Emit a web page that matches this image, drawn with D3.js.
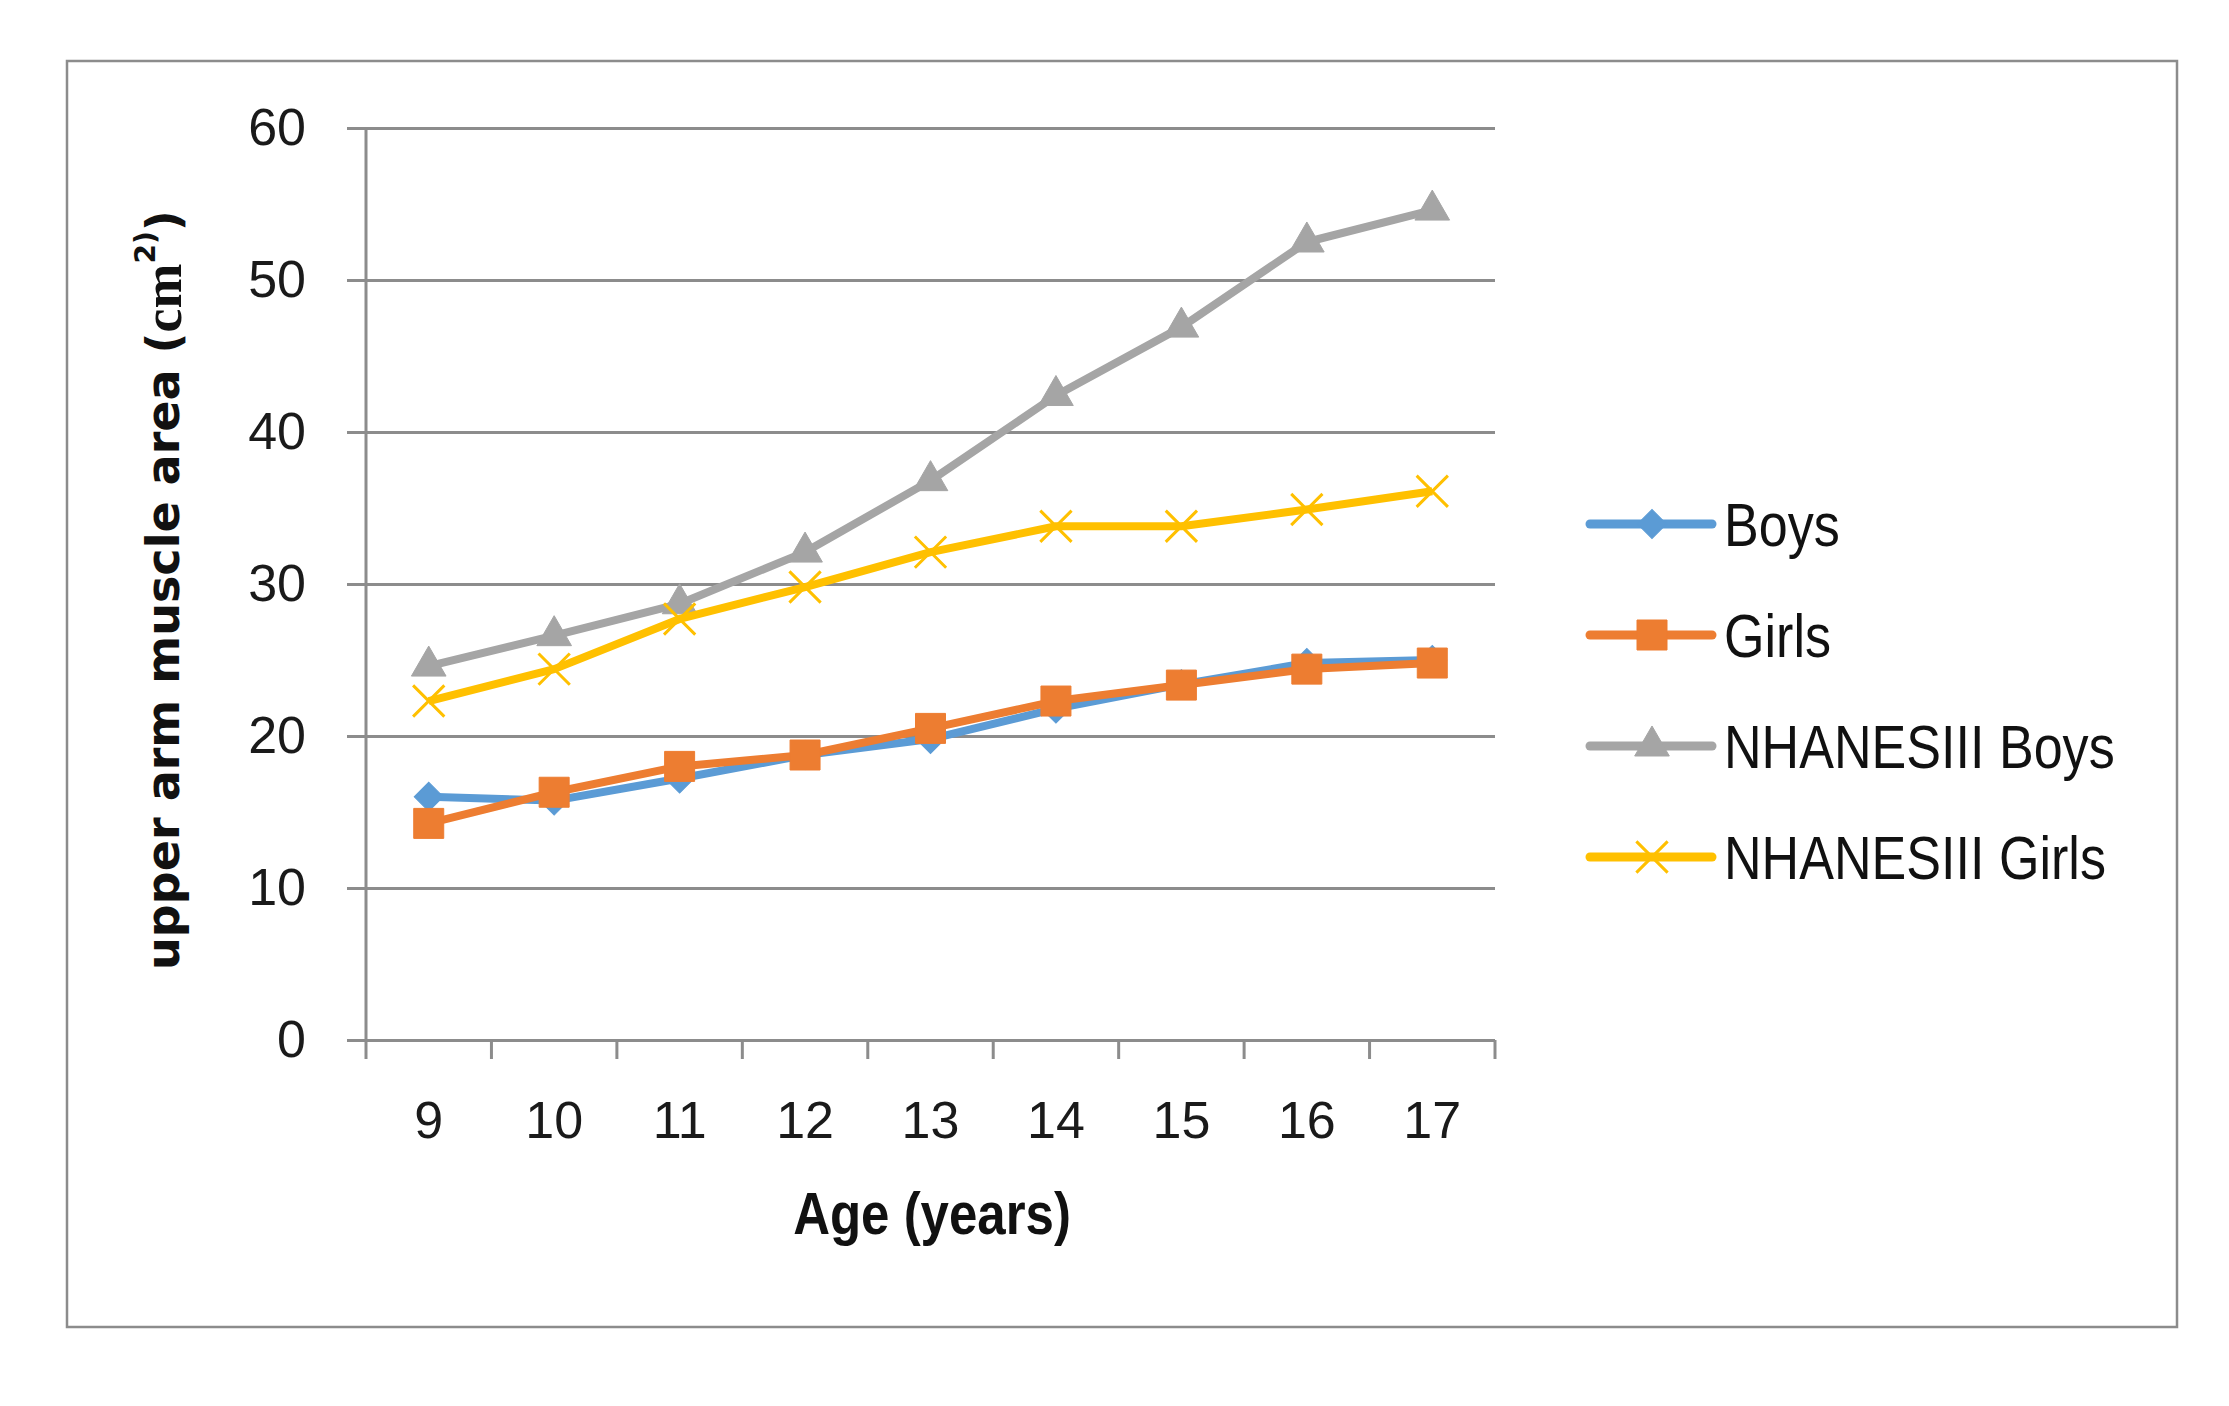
<!DOCTYPE html>
<html>
<head>
<meta charset="utf-8">
<script src="https://cdn.jsdelivr.net/npm/d3@7"></script>
<style>
  body { margin: 0; background: #fff; }
</style>
</head>
<body>
<div id="chart"></div>
<script>
"use strict";

var ages = ["9", "10", "11", "12", "13", "14", "15", "16", "17"];
var boys = [16.0, 15.75, 17.2, 18.75, 19.8, 21.8, 23.4, 24.8, 25.0];
var girls = [14.25, 16.3, 18.0, 18.75, 20.5, 22.3, 23.35, 24.4, 24.8];
var nhanesBoys = [24.6, 26.6, 28.7, 32.1, 36.8, 42.4, 46.9, 52.5, 54.6];
var nhanesGirls = [22.3, 24.4, 27.7, 29.8, 32.1, 33.8, 33.8, 34.9, 36.1];
var seriesNames = ["Boys", "Girls", "NHANESIII Boys", "NHANESIII Girls"];
var yTicks = [0, 10, 20, 30, 40, 50, 60];

function lineChart() {

    var w = 2229;
    var h = 1406;
    var left = 366, right = 1495, top = 128, bottom = 1040;

    var svg = d3.select("#chart")
                .append("svg")
                .attr("width", w)
                .attr("height", h);

    // outer frame
    svg.append("rect")
        .attr("x", 67).attr("y", 61)
        .attr("width", 2110).attr("height", 1266)
        .attr("fill", "none")
        .attr("stroke", "#8c8c8c")
        .attr("stroke-width", 2.5);

    var x = d3.scaleBand().domain(ages).range([left, right]).padding(0);
    var y = d3.scaleLinear().domain([0, 60]).range([bottom, top]);

    // gridlines + y labels in one axis, drawn from the right edge
    var gy = svg.append("g")
        .attr("transform", "translate(" + right + ",0)")
        .call(d3.axisLeft(y).tickValues(yTicks).tickSize(right - 347).tickPadding(41));
    gy.select(".domain").remove();
    gy.selectAll("line").attr("stroke", "#8c8c8c").attr("stroke-width", 3);
    gy.selectAll("text")
        .attr("font-family", "'Liberation Sans', Arial, sans-serif")
        .attr("font-size", 52)
        .attr("fill", "#1a1a1a");

    // vertical axis line
    svg.append("line")
        .attr("x1", left).attr("x2", left)
        .attr("y1", top).attr("y2", bottom)
        .attr("stroke", "#8c8c8c").attr("stroke-width", 3);

    // x ticks at category boundaries
    svg.selectAll("line.xtick")
        .data(d3.range(ages.length + 1))
        .enter()
        .append("line")
        .attr("class", "xtick")
        .attr("x1", function(i){ return left + i * x.step(); })
        .attr("x2", function(i){ return left + i * x.step(); })
        .attr("y1", bottom)
        .attr("y2", bottom + 19)
        .attr("stroke", "#8c8c8c")
        .attr("stroke-width", 3);

    var gx = svg.append("g")
        .attr("transform", "translate(0," + bottom + ")")
        .call(d3.axisBottom(x).tickSize(0).tickPadding(0));
    gx.select(".domain").remove();
    gx.selectAll("text")
        .attr("y", 80)
        .attr("dy", null)
        .attr("dominant-baseline", "central")
        .attr("font-family", "'Liberation Sans', Arial, sans-serif")
        .attr("font-size", 52)
        .attr("fill", "#1a1a1a");

    // axis titles (narrowed a bit, the original font is condensed)
    svg.append("text")
        .attr("transform", "translate(932,1214) scale(0.85,1)")
        .attr("text-anchor", "middle")
        .attr("dominant-baseline", "central")
        .attr("font-family", "'Liberation Sans', sans-serif")
        .attr("font-weight", "bold")
        .attr("font-size", 60)
        .attr("fill", "#111")
        .text("Age (years)");

    var yt = svg.append("text")
        .attr("transform", "translate(163,590) rotate(-90)")
        .attr("text-anchor", "middle")
        .attr("dominant-baseline", "central")
        .attr("font-family", "'DejaVu Sans', Verdana, sans-serif")
        .attr("font-weight", "bold")
        .attr("font-size", 46)
        .attr("fill", "#111");
    yt.append("tspan").text("upper arm muscle area (");
    yt.append("tspan").attr("font-family", "'Liberation Serif', 'Times New Roman', serif").attr("font-size", 54).text("cm");
    yt.append("tspan").attr("font-size", 28).attr("dy", -18).text("2)");
    yt.append("tspan").attr("dy", 18).text(")");

    var colors = ["#5B9BD5", "#ED7D31", "#A5A5A5", "#FFC000"];
    var values = [boys, girls, nhanesBoys, nhanesGirls];
    var symX = d3.symbolX || d3.symbolCross;
    var markers = [
        { type: d3.symbolSquare, size: 420, rot: 45, fill: true },
        { type: d3.symbolSquare, size: 900, rot: 0, fill: true },
        { type: d3.symbolTriangle, size: 520, rot: 0, fill: true },
        { type: symX, size: 640, rot: 0, fill: false }
    ];

    var line = d3.line()
        .x(function(d, i){ return x(ages[i]) + x.bandwidth() / 2; })
        .y(function(d){ return y(d); });

    function drawMarker(sel, k) {
        var m = markers[k];
        sel.attr("d", d3.symbol().type(m.type).size(m.size))
            .attr("fill", m.fill ? colors[k] : "none")
            .attr("stroke", colors[k])
            .attr("stroke-width", m.fill ? 1 : 3);
    }

    values.forEach(function(vals, k){
        svg.append("path")
            .datum(vals)
            .attr("d", line)
            .attr("fill", "none")
            .attr("stroke", colors[k])
            .attr("stroke-width", 8)
            .attr("stroke-linejoin", "round");

        svg.selectAll("path.m" + k)
            .data(vals)
            .enter()
            .append("path")
            .attr("class", "m" + k)
            .attr("transform", function(d, i){
                return "translate(" + (x(ages[i]) + x.bandwidth() / 2) + "," + y(d) + ") rotate(" + markers[k].rot + ")";
            })
            .call(drawMarker, k);
    });

    // legend
    var legend = svg.selectAll("g.legend")
        .data(seriesNames)
        .enter()
        .append("g")
        .attr("class", "legend")
        .attr("transform", function(d, i){ return "translate(1590," + (524 + i * 111) + ")"; });

    legend.append("line")
        .attr("x1", 0).attr("x2", 122)
        .attr("y1", 0).attr("y2", 0)
        .attr("stroke", function(d, i){ return colors[i]; })
        .attr("stroke-width", 9)
        .attr("stroke-linecap", "round");

    legend.each(function(d, i){
        d3.select(this).append("path")
            .attr("transform", "translate(62,0) rotate(" + markers[i].rot + ")")
            .call(drawMarker, i);
    });

    legend.append("text")
        .attr("transform", "translate(134,0) scale(0.84,1)")
        .attr("dominant-baseline", "central")
        .attr("font-family", "'Liberation Sans', sans-serif")
        .attr("font-size", 62)
        .attr("fill", "#111")
        .text(function(d){ return d; });
}

window.onload = lineChart;
</script>
</body>
</html>
